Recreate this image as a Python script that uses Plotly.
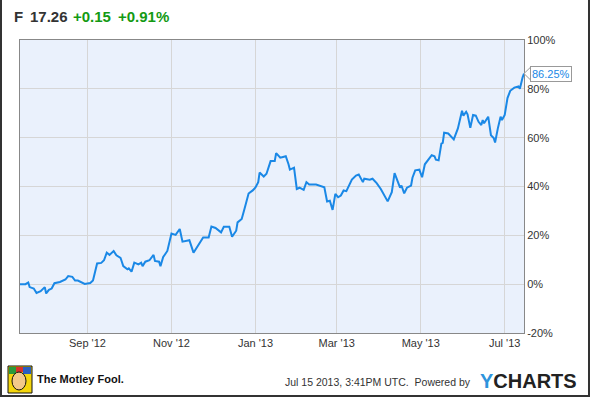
import plotly.graph_objects as go

dates = [
    "2012-07-14", "2012-07-18", "2012-07-20", "2012-07-21", "2012-07-24", "2012-07-26", "2012-07-29",
    "2012-08-01", "2012-08-02", "2012-08-04", "2012-08-06", "2012-08-08", "2012-08-12", "2012-08-16",
    "2012-08-18", "2012-08-21", "2012-08-23", "2012-08-25", "2012-08-30", "2012-09-03", "2012-09-05",
    "2012-09-08", "2012-09-11", "2012-09-13", "2012-09-15", "2012-09-17", "2012-09-20", "2012-09-22",
    "2012-09-25", "2012-09-27", "2012-09-30", "2012-10-01", "2012-10-03", "2012-10-05", "2012-10-08",
    "2012-10-10", "2012-10-11", "2012-10-13", "2012-10-16", "2012-10-19", "2012-10-20", "2012-10-23",
    "2012-10-24", "2012-10-26", "2012-10-29", "2012-11-01", "2012-11-04", "2012-11-07", "2012-11-09",
    "2012-11-12", "2012-11-14", "2012-11-17", "2012-11-20", "2012-11-22", "2012-11-24", "2012-11-28",
    "2012-11-30", "2012-12-03", "2012-12-05", "2012-12-07", "2012-12-09", "2012-12-13", "2012-12-15",
    "2012-12-18", "2012-12-19", "2012-12-22", "2012-12-24", "2012-12-27", "2012-12-30", "2013-01-01",
    "2013-01-03", "2013-01-04", "2013-01-07", "2013-01-09", "2013-01-12", "2013-01-15", "2013-01-16",
    "2013-01-19", "2013-01-21", "2013-01-23", "2013-01-25", "2013-01-26", "2013-01-29", "2013-01-31",
    "2013-02-02", "2013-02-05", "2013-02-07", "2013-02-09", "2013-02-14", "2013-02-16", "2013-02-17",
    "2013-02-20", "2013-02-22", "2013-02-24", "2013-02-26", "2013-02-28", "2013-03-02", "2013-03-04",
    "2013-03-06", "2013-03-08", "2013-03-12", "2013-03-15", "2013-03-17", "2013-03-19", "2013-03-20",
    "2013-03-21", "2013-03-25", "2013-03-27", "2013-03-30", "2013-04-02", "2013-04-05", "2013-04-07",
    "2013-04-10", "2013-04-12", "2013-04-14", "2013-04-16", "2013-04-17", "2013-04-19", "2013-04-21",
    "2013-04-24", "2013-04-25", "2013-04-27", "2013-04-30", "2013-05-02", "2013-05-04", "2013-05-06",
    "2013-05-09", "2013-05-11", "2013-05-12", "2013-05-14", "2013-05-16", "2013-05-17", "2013-05-18",
    "2013-05-21", "2013-05-23", "2013-05-25", "2013-05-28", "2013-05-29", "2013-05-31", "2013-06-01",
    "2013-06-03", "2013-06-04", "2013-06-06", "2013-06-08", "2013-06-10", "2013-06-12", "2013-06-14",
    "2013-06-15", "2013-06-16", "2013-06-19", "2013-06-21", "2013-06-23", "2013-06-24", "2013-06-26",
    "2013-06-28", "2013-06-29", "2013-07-01", "2013-07-03", "2013-07-05", "2013-07-08", "2013-07-11",
    "2013-07-12", "2013-07-13", "2013-07-14", "2013-07-15",
]

pct_change = [
    0.0, 0.0, 0.7, -1.2, -1.8, -3.6, -2.9,
    -1.2, -3.8, -2.3, -1.8, 0.4, 0.9, 1.9,
    3.3, 3.0, 1.5, 1.5, 0.1, 0.5, 1.5,
    8.5, 8.7, 9.8, 12.9, 12.0, 13.6, 11.8,
    10.8, 7.4, 6.1, 6.5, 5.1, 8.8, 8.1,
    8.8, 7.4, 9.2, 9.8, 12.0, 9.5, 9.2,
    7.4, 11.1, 13.6, 20.7, 20.2, 22.6, 17.4,
    17.7, 18.0, 12.9, 15.7, 17.0, 19.1, 19.1,
    23.6, 23.0, 21.9, 21.2, 23.5, 23.5, 19.4,
    21.9, 25.3, 26.7, 30.8, 37.1, 38.4, 39.6,
    41.8, 45.7, 44.1, 45.2, 50.4, 50.4, 53.7,
    51.8, 52.1, 52.4, 49.1, 46.9, 47.7, 39.0,
    39.5, 38.6, 41.8, 40.8, 40.8, 40.4, 40.0,
    39.7, 33.9, 34.2, 30.4, 37.0, 35.6, 36.3,
    38.4, 38.1, 42.8, 44.5, 44.9, 43.2, 41.8,
    43.2, 42.8, 43.2, 41.4, 39.0, 35.6, 33.9,
    37.7, 45.5, 42.5, 39.5, 40.4, 37.2, 39.5,
    40.4, 43.6, 46.6, 46.9, 43.8, 49.1, 50.7,
    52.8, 52.4, 51.0, 50.7, 57.6, 57.9, 62.0,
    61.7, 60.6, 59.3, 63.8, 66.5, 71.0, 69.0,
    70.6, 69.6, 64.0, 69.3, 69.0, 66.5, 65.2,
    67.2, 65.9, 68.6, 61.0, 59.9, 58.0, 63.8,
    68.6, 67.2, 69.3, 76.2, 79.2, 80.5, 81.0,
    80.0, 83.0, 84.7, 86.25,
]

y_ticks = [-20, 0, 20, 40, 60, 80, 100]
y_tick_labels = ["-20%", "0%", "20%", "40%", "60%", "80%", "100%"]
header_parts = [("F", "#333333"), ("17.26", "#333333"), ("+0.15", "#139a13"), ("+0.91%", "#139a13")]
header_px = [12, 28, 71, 116]

W, H = 590, 397
L, R, T, B = 20, 66, 40, 64
PW, PH = W - L - R, H - T - B


def px(x):
    return (x - L) / PW


def py(y):
    return (H - B - y) / PH


LINE_BLUE = "#1a88e6"
FONT = "Liberation Sans, Arial, sans-serif"

fig = go.Figure()
fig.add_trace(go.Scatter(
    x=dates, y=pct_change, mode="lines",
    line=dict(color=LINE_BLUE, width=2), hoverinfo="skip", showlegend=False,
))

annotations = []
for (txt, col), xp in zip(header_parts, header_px):
    annotations.append(dict(
        xref="paper", yref="paper", x=px(xp), y=py(17), xanchor="left", yanchor="middle",
        text="<b>%s</b>" % txt, showarrow=False, font=dict(family=FONT, size=15, color=col),
    ))

annotations.append(dict(
    x=dates[-1], y=pct_change[-1], xref="x", yref="y", xanchor="left", yanchor="middle",
    xshift=6, text="%.2f%%" % pct_change[-1], showarrow=False,
    font=dict(family=FONT, size=11, color=LINE_BLUE),
    bgcolor="white", bordercolor="#999999", borderwidth=1, borderpad=1,
))

annotations.append(dict(
    xref="paper", yref="paper", x=px(35), y=py(379), xanchor="left", yanchor="middle",
    text="<b>The Motley Fool.</b>", showarrow=False, font=dict(family=FONT, size=11, color="#111111"),
))
annotations.append(dict(
    xref="paper", yref="paper", x=px(473), y=py(382), xanchor="right", yanchor="middle",
    text="Jul 15 2013, 3:41PM UTC.  Powered by", showarrow=False,
    font=dict(family=FONT, size=10.5, color="#333333"),
))
annotations.append(dict(
    xref="paper", yref="paper", x=px(478), y=py(381), xanchor="left", yanchor="middle",
    text="<b><span style='color:#2e94dc'>Y</span>CHARTS</b>", showarrow=False,
    font=dict(family=FONT, size=20, color="#222222"),
))

shapes = [
    # outer frame (left, bottom, right)
    dict(type="path", xref="paper", yref="paper",
         path="M %f,%f L %f,%f L %f,%f L %f,%f" % (px(1), py(0), px(1), py(396), px(589), py(396), px(589), py(0)),
         line=dict(color="#333333", width=2)),
    # pointer of value label
    dict(type="path", xref="paper", yref="y",
         path="M 1,%f L %f,%f L %f,%f Z" % (pct_change[-1], px(531), pct_change[-1] + 2.8, px(531), pct_change[-1] - 2.8),
         fillcolor="white", line=dict(color="#999999", width=1)),
    # logo
    dict(type="rect", xref="paper", yref="paper", x0=px(8), x1=px(32), y0=py(393), y1=py(366),
         fillcolor="#f4d60c", line=dict(color="#111111", width=1)),
    dict(type="rect", xref="paper", yref="paper", x0=px(9), x1=px(16), y0=py(374), y1=py(367),
         fillcolor="#2b9a3a", line=dict(width=0)),
    dict(type="rect", xref="paper", yref="paper", x0=px(16), x1=px(23), y0=py(372), y1=py(367),
         fillcolor="#d8322a", line=dict(width=0)),
    dict(type="rect", xref="paper", yref="paper", x0=px(23), x1=px(31), y0=py(374), y1=py(367),
         fillcolor="#2a5fc0", line=dict(width=0)),
    dict(type="circle", xref="paper", yref="paper", x0=px(12), x1=px(26), y0=py(390), y1=py(372),
         fillcolor="#f2c98a", line=dict(color="#111111", width=1)),
]

fig.update_layout(
    width=W, height=H, margin=dict(l=L, r=R, t=T, b=B, pad=0),
    paper_bgcolor="white", plot_bgcolor="#eaf1fc",
    font=dict(family=FONT, size=11, color="#333333"),
    annotations=annotations, shapes=shapes, showlegend=False,
    xaxis=dict(
        type="date", range=["2012-07-14", "2013-07-15"],
        tick0="2012-09-01", dtick="M2", tickformat="%b '%y",
        showgrid=True, gridcolor="#d6d6d6", gridwidth=1,
        showline=True, linecolor="#888888", linewidth=1, mirror=True,
        ticks="", tickfont=dict(size=11, color="#333333"), zeroline=False,
    ),
    yaxis=dict(
        side="right", range=[-20, 100], tickvals=y_ticks, ticktext=y_tick_labels,
        showgrid=True, gridcolor="#d6d6d6", gridwidth=1,
        showline=True, linecolor="#888888", linewidth=1, mirror=True,
        ticks="", tickfont=dict(size=11, color="#333333"), zeroline=False,
    ),
)

fig.write_html(
    "out.html",
    config={"displayModeBar": False, "staticPlot": True},
    post_script="document.body.style.margin='0';document.body.style.overflow='hidden';",
)
